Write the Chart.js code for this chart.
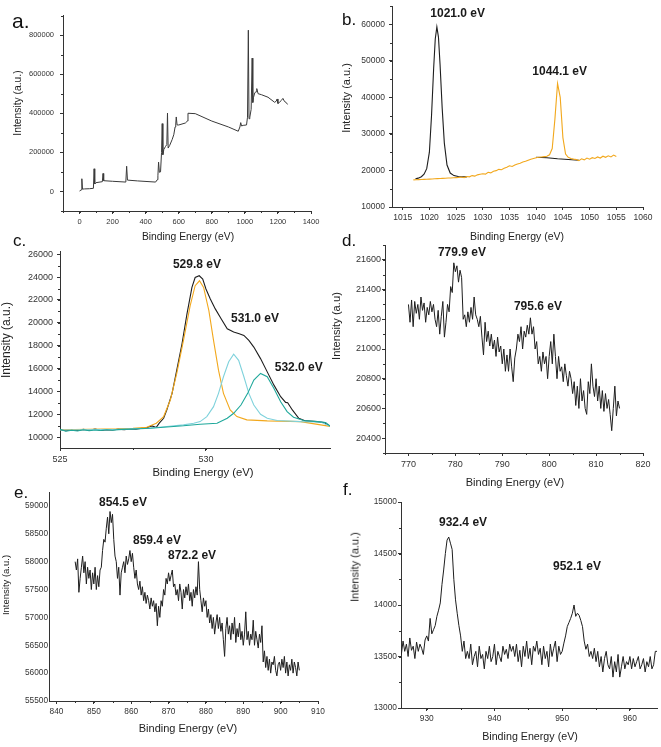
<!DOCTYPE html>
<html>
<head>
<meta charset="utf-8">
<script src="https://cdn.jsdelivr.net/npm/chart.js@4.4.0/dist/chart.umd.min.js"></script>
<style>
  body { margin: 0; width: 661px; height: 747px; background: #fff; position: relative; overflow: hidden;
         font-family: "Liberation Sans", Arial, sans-serif; }
  canvas { position: absolute; }
  .txt { position: absolute; white-space: nowrap; color: #222; line-height: 1; }
  .letter { font-size: 17px; color: #111; }
  .ytitle { transform: translate(-50%, -50%) rotate(-90deg); }
  .xtitle { transform: translate(-50%, -50%); }
</style>
</head>
<body>
<script>
const FONT = '"Liberation Sans", Arial, sans-serif';

// ---- a. survey ----
const aX = [0, 10, 14, 18, 30, 60, 84, 88, 92, 100, 138, 142, 146, 200, 280, 285, 290, 350, 460, 470, 474, 478, 483, 490, 496, 500, 504, 510, 520, 528, 532, 536, 545, 560, 570, 578, 582, 585, 590, 600, 640, 652, 656, 700, 800, 900, 960, 970, 975, 980, 990, 1010, 1016, 1021, 1025, 1030, 1038, 1044, 1048, 1052, 1060, 1068, 1072, 1080, 1100, 1140, 1180, 1190, 1195, 1200, 1208, 1220, 1230, 1240, 1250, 1258];
const aY = [2000, 8000, 65000, 12000, 13000, 14000, 16000, 116000, 38000, 45000, 50000, 92000, 55000, 52000, 48000, 129000, 58000, 54000, 48000, 60000, 80000, 150000, 98000, 100000, 200000, 347000, 188000, 215000, 230000, 240000, 401000, 222000, 235000, 265000, 290000, 330000, 345000, 381000, 340000, 340000, 350000, 360000, 400000, 398000, 360000, 330000, 308000, 330000, 352000, 335000, 338000, 340000, 380000, 825000, 372000, 380000, 420000, 682000, 455000, 480000, 505000, 510000, 526000, 500000, 495000, 482000, 456000, 462000, 473000, 450000, 455000, 465000, 476000, 460000, 455000, 445000];
const aXTicks = [0, 200, 400, 600, 800, 1000, 1200, 1400];
const aYTicks = [0, 200000, 400000, 600000, 800000];

// ---- b. 1021 / 1044 ----
const bBlackX = [1017.4, 1017.9, 1018.5, 1019, 1019.5, 1020, 1020.4, 1020.8, 1021.1, 1021.4, 1021.7, 1022, 1022.4, 1022.8, 1023.3, 1023.9, 1024.6, 1025.4, 1026.3, 1027, 1033, 1040, 1042, 1044, 1046, 1048];
const bBlackY = [17700, 17900, 18300, 19000, 20500, 25000, 35000, 48000, 56000, 59300, 56500, 49000, 37000, 27500, 21500, 19300, 18600, 18350, 18250, 18250, null, 23600, 23500, 23200, 23000, 22800];
const bOrangeStart = 1017, bOrangePerEv = 2;
const bOrangeY = [
  17430, 17460, 17500, 17530, 17560, 17600, 17640, 17680, 17720, 17760,
  17800, 17840, 17880, 17920, 17960, 18000, 18050, 18100, 18200, 18050,
  18350, 18250, 18600, 18450, 18800, 18950, 19100, 19000, 19500, 19350,
  19800, 19950, 20300, 20200, 20600, 20900, 21300, 21100, 21500, 21800,
  22000, 22300, 22500, 22800, 23100, 23300, 23500, 23600, 23700, 23800,
  23900, 24300, 26000, 34000, 43800, 40000, 29000, 24500, 23600, 23300,
  23100, 23000, 22700, 23200, 22900, 23400, 23100, 23500, 23300, 23700,
  23400, 23900, 23600, 24000, 23700, 24200, 23800];
const bXTicks = [1015, 1020, 1025, 1030, 1035, 1040, 1045, 1050, 1055, 1060];
const bYTicks = [10000, 20000, 30000, 40000, 50000, 60000];

// ---- c. O 1s fit ----
const cBlackX = [525, 525.2, 525.4, 525.6, 525.8, 526, 526.2, 526.4, 526.6, 526.8, 527, 527.2, 527.4, 527.6, 527.8, 528, 528.15, 528.3, 528.4, 528.55, 528.66, 528.84, 529, 529.18, 529.35, 529.52, 529.63, 529.77, 529.89, 530, 530.15, 530.32, 530.52, 530.73, 530.95, 531.14, 531.3, 531.47, 531.64, 531.87, 532.1, 532.33, 532.56, 532.73, 532.8, 532.96, 533.18, 533.41, 533.81, 534.04, 534.27];
const cBlackY = [10650, 10560, 10620, 10580, 10680, 10600, 10700, 10590, 10650, 10620, 10700, 10660, 10720, 10690, 10780, 10840, 10980, 10850, 11220, 11650, 12380, 13830, 15860, 18170, 20780, 23100, 23970, 24120, 23830, 22960, 22090, 21220, 20350, 19480, 19190, 19040, 18900, 18460, 17880, 16870, 15710, 14550, 13540, 13040, 13010, 12380, 11650, 11420, 11360, 11280, 10930];
const cOrangeX = [525, 526, 527, 527.5, 527.97, 528.3, 528.55, 528.78, 529, 529.23, 529.46, 529.63, 529.78, 529.92, 530.1, 530.26, 530.43, 530.6, 530.83, 531.06, 531.4, 532.1, 533.24, 534.27];
const cOrangeY = [10650, 10680, 10720, 10780, 10870, 11220, 11800, 13250, 15570, 18460, 21510, 23250, 23680, 23100, 21070, 18460, 15860, 13830, 12380, 11800, 11510, 11420, 11360, 10930];
const cCyanX = [525, 527, 528, 528.66, 529.23, 529.58, 529.8, 530.03, 530.26, 530.43, 530.6, 530.78, 530.95, 531.12, 531.3, 531.47, 531.64, 531.87, 532.1, 532.44, 533.24, 533.93, 534.27];
const cCyanY = [10620, 10680, 10780, 10930, 11070, 11220, 11360, 11800, 12670, 13830, 15280, 16590, 17250, 16720, 15280, 13830, 12810, 12000, 11650, 11450, 11360, 11330, 10930];
const cTealX = [525, 525.2, 525.4, 525.6, 525.8, 526, 526.2, 526.4, 526.6, 526.8, 527, 528.1, 529.23, 529.8, 530.38, 530.73, 530.95, 531.2, 531.43, 531.64, 531.87, 532.1, 532.33, 532.56, 532.78, 533, 533.35, 533.81, 534.1, 534.27];
const cTealY = [10680, 10520, 10600, 10540, 10650, 10560, 10620, 10580, 10640, 10600, 10660, 10780, 10990, 11130, 11220, 11650, 12090, 12810, 13830, 14990, 15570, 15280, 14260, 13100, 12230, 11740, 11450, 11360, 11280, 10930];
const cXTicks = [525, 530];
const cYTicks = [10000, 12000, 14000, 16000, 18000, 20000, 22000, 24000, 26000];

// ---- d. 770-815 ----
const dStart = 770, dPerEv = 3;
const dY = [
  21300, 21180, 21330,  21150, 21320, 21240,  21300, 21200, 21350,  21260, 21310, 21180,
  21280, 21230, 21320,  21250, 21300, 21200,  21150, 21260, 21100,  21220, 21320, 21080,
  21180, 21300, 21250,  21420, 21380, 21580,  21520, 21560, 21450,  21530, 21480, 21200,
  21230, 21150, 21250,  21180, 21280, 21200,  21350, 21230, 21200,  21150, 21220, 21080,
  20960, 21180, 21050,  21120, 21020, 21100,  21000, 21060, 20950,  21080, 20980, 21020,
  20900, 21000, 20850,  20960, 20850, 21000,  20880, 20780, 20940,  21000, 21100, 21050,
  21150, 21000, 21120,  21080, 21160, 21100,  21210, 21100, 21150,  21000, 21050, 20900,
  20950, 20850, 20980,  20900, 20950, 20800,  20950, 21050, 20900,  21100, 20950, 20800,
  20950, 20850, 20880,  20780, 20900, 20820,  20750, 20850, 20800,  20700, 20780, 20620,
  20750, 20600, 20800,  20650, 20720, 20600,  20560, 20780, 20700,  20900, 20750, 20680,
  20800, 20650, 20750,  20600, 20720, 20580,  20700, 20600, 20660,  20560, 20450, 20600,
  20750, 20550, 20650,  20600];
const dXTicks = [770, 780, 790, 800, 810, 820];
const dYTicks = [20400, 20600, 20800, 21000, 21200, 21400, 21600];

// ---- e. 845-905 ----
const eStart = 845, ePerEv = 3;
const eY = [
  58000, 57850, 58050,  57450, 57700, 57900,  58100, 57800, 58000,  57600, 57900, 57700,
  57850, 57500, 57800,  57600, 57900, 57500,  57750, 57550, 57850,  57900, 58200, 58400,
  58350, 58600, 58800,  58500, 58900, 58700,  58850, 58400, 58100,  58000, 57700, 57900,
  57400, 57800, 57900,  58000, 57800, 58100,  57950, 58050, 58200,  58000, 58150, 57900,
  57700, 57850, 57600,  57500, 57650, 57400,  57550, 57300, 57450,  57250, 57400, 57300,
  57150, 57350, 57200,  57300, 57100, 57250,  56850, 57200, 57000,  57300, 57200, 57500,
  57400, 57700, 57600,  57800, 57650, 57750,  57850, 57550, 57600,  57400, 57500, 57300,
  57600, 57450, 57150,  57500, 57350, 57550,  57400, 57600, 57300,  57450, 57200, 57500,
  57350, 57550, 57400,  58000, 57500, 57300,  57100, 57350, 57200,  57300, 57000, 57150,
  56900, 57050, 56800,  57000, 56700, 56900,  57050, 56800, 57000,  56750, 56900, 56600,
  56300, 56800, 57000,  56700, 56850, 56600,  56900, 56700, 57000,  56550, 56800, 56650,
  56900, 56600, 56750,  56500, 56700, 57100,  56600, 56750, 56500,  56700, 56600, 56950,
  56500, 56750, 56600,  56450, 56700, 56550,  56850, 56200, 56400,  56100, 56300, 56050,
  56250, 56000, 56200,  56150, 56300, 56050,  55950, 56150, 56200,  56050, 56250, 56100,
  56300, 56000, 56200,  55950, 56150, 56050,  56250, 56000, 56200,  56100, 55950, 56200,
  56050];
const eXTicks = [840, 850, 860, 870, 880, 890, 900, 910];
const eYTicks = [55500, 56000, 56500, 57000, 57500, 58000, 58500, 59000];

// ---- f. 926-964 ----
const fStart = 926, fPerEv = 4;
const fY = [
  13600, 13520, 13650, 13550,  13620, 13500, 13680, 13560,  13600, 13480, 13640, 13550,
  13620, 13580, 13520, 13660,  13700, 13650, 13870, 13720,  13760, 13800, 13890, 13950,
  14020, 14200, 14340, 14500,  14630, 14660, 14600, 14540,  14250, 14050, 13920, 13800,
  13700, 13550, 13650, 13480,  13550, 13480, 13620, 13420,  13500, 13550, 13400, 13600,
  13480, 13520, 13380, 13550,  13480, 13600, 13450, 13500,  13620, 13420, 13550, 13500,
  13450, 13600, 13520, 13570,  13480, 13620, 13550, 13600,  13500, 13620, 13450, 13560,
  13400, 13600, 13500, 13650,  13480, 13580, 13420, 13600,  13550, 13650, 13520, 13580,
  13420, 13600, 13480, 13550,  13400, 13620, 13500, 13580,  13650, 13450, 13600, 13520,
  13550, 13630, 13700, 13790,  13830, 13870, 13920, 14000,  13890, 13920, 13900, 13850,
  13790, 13650, 13570, 13620,  13500, 13550, 13480, 13580,  13450, 13550, 13400, 13500,
  13350, 13480, 13550, 13420,  13380, 13500, 13300, 13450,  13350, 13520, 13300, 13400,
  13500, 13380, 13450, 13420,  13500, 13380, 13480, 13400,  13450, 13500, 13380, 13420,
  13480, 13350, 13450, 13400,  13500, 13380, 13420, 13550,  13550];
const fXTicks = [930, 940, 950, 960];
const fYTicks = [13000, 13500, 14000, 14500, 15000];

// helpers
function pairs(xs, ys) {
  return xs.map((x, i) => ({ x: x, y: ys[i] }));
}
function onGrid(start, perEv, ys) {
  return ys.map((y, i) => ({ x: start + i / perEv, y: y }));
}
function line(data, color, width) {
  return { data: data, borderColor: color, borderWidth: width || 1, pointRadius: 0, tension: 0, fill: false, spanGaps: false };
}

// minor tick marks, drawn with the chart's own scales
const minorTicks = {
  id: 'minorTicks',
  afterDraw(chart, args, opts) {
    const ctx = chart.ctx;
    ctx.save();
    ctx.strokeStyle = '#333';
    ctx.lineWidth = 1;
    ['x', 'y'].forEach(k => {
      const step = opts[k];
      if (!step) return;
      const s = chart.scales[k];
      const n0 = Math.ceil(s.min / step - 1e-9), n1 = Math.floor(s.max / step + 1e-9);
      for (let n = n0; n <= n1; n++) {
        const p = Math.round(s.getPixelForValue(n * step)) + 0.5;
        ctx.beginPath();
        if (k === 'x') { ctx.moveTo(p, s.top); ctx.lineTo(p, s.top + 2); }
        else { ctx.moveTo(s.right, p); ctx.lineTo(s.right - 2, p); }
        ctx.stroke();
      }
    });
    ctx.restore();
  }
};

// peak labels
const peakNotes = {
  id: 'peakNotes',
  afterDatasetsDraw(chart, args, opts) {
    const ctx = chart.ctx;
    ctx.save();
    ctx.font = 'bold 12px ' + FONT;
    ctx.fillStyle = '#1a1a1a';
    ctx.textAlign = 'center';
    ctx.textBaseline = 'middle';
    (opts.items || []).forEach(n => {
      ctx.fillText(n.text, chart.scales.x.getPixelForValue(n.x), chart.scales.y.getPixelForValue(n.y));
    });
    ctx.restore();
  }
};

function axis(min, max, majors, size, font, pad, tick) {
  return {
    type: 'linear', min: min, max: max,
    afterBuildTicks: s => { s.ticks = majors.map(v => ({ value: v })); },
    afterFit: s => { if (s.isHorizontal()) s.height = size; else s.width = size; },
    ticks: { autoSkip: false, maxRotation: 0, color: '#333', padding: pad,
             font: { family: FONT, size: font }, callback: v => String(v) },
    grid: { display: true, drawOnChartArea: false, drawTicks: tick > 0, tickLength: tick, color: '#333', lineWidth: 1 },
    border: { display: true, color: '#333', width: 1 }
  };
}

function addText(cls, text, x, y, size) {
  const d = document.createElement('div');
  d.className = 'txt ' + cls;
  d.textContent = text;
  d.style.left = x + 'px';
  d.style.top = y + 'px';
  d.style.fontSize = size + 'px';
  document.body.appendChild(d);
}

function makePanel(p) {
  const padT = 8, padR = 16, xH = 26;
  const [L, T, R, B] = p.box;
  const w = R - L + p.yW + padR, h = B - T + padT + xH;
  const cv = document.createElement('canvas');
  cv.width = w; cv.height = h;
  cv.style.left = (L - p.yW) + 'px';
  cv.style.top = (T - padT) + 'px';
  cv.style.width = w + 'px';
  cv.style.height = h + 'px';
  document.body.appendChild(cv);

  new Chart(cv, {
    type: 'line',
    data: { datasets: p.datasets },
    options: {
      responsive: false, animation: false, devicePixelRatio: 1,
      layout: { padding: { top: padT, right: padR, left: 0, bottom: 0 } },
      plugins: { legend: { display: false }, tooltip: { enabled: false },
                 minorTicks: p.minor, peakNotes: { items: p.notes } },
      scales: {
        x: axis(p.x[0], p.x[1], p.xTicks, xH, p.font, p.xPad, 3),
        y: axis(p.y[0], p.y[1], p.yTicks, p.yW, p.font, p.yPad, p.yTick)
      }
    },
    plugins: [minorTicks, peakNotes]
  });

  addText('letter', p.letter, p.letterPos[0], p.letterPos[1], p.letterSize || 17);
  addText('xtitle', 'Binding Energy (eV)', p.xTitle[0], p.xTitle[1], p.xTitle[2]);
  addText('ytitle', p.yLabel, p.yTitle[0], p.yTitle[1], p.yTitle[2]);
}

const BLACK = '#1e1e1e', ORANGE = '#f2a81d', CYAN = '#7fd2dc', TEAL = '#1fa89b';

const panels = [
  { letter: 'a.', letterPos: [12, 10], letterSize: 21, box: [63, 13, 311, 211], yW: 62,
    x: [-100, 1400], y: [-100000, 900000], xTicks: aXTicks, yTicks: aYTicks,
    font: 7.5, xPad: 3, yPad: 6, yTick: 3, minor: { x: 100, y: 100000 },
    xTitle: [188, 237, 10.3], yTitle: [18, 103, 10.3], yLabel: 'Intensity (a.u.)',
    datasets: [line(pairs(aX, aY), '#3a3a3a', 1)], notes: [] },
  { letter: 'b.', letterPos: [342, 11], box: [392, 5, 643, 207], yW: 45,
    x: [1013, 1060], y: [10000, 65000], xTicks: bXTicks, yTicks: bYTicks,
    font: 8.5, xPad: 3, yPad: 4, yTick: 3, minor: { y: 5000 },
    xTitle: [517, 236, 10.5], yTitle: [346, 98, 11], yLabel: 'Intensity (a.u.)',
    datasets: [line(onGrid(bOrangeStart, bOrangePerEv, bOrangeY), ORANGE, 1.1),
               line(pairs(bBlackX, bBlackY), BLACK, 1.1)],
    notes: [{ text: '1021.0 eV', x: 1025.3, y: 63000 }, { text: '1044.1 eV', x: 1044.4, y: 46950 }] },
  { letter: 'c.', letterPos: [13, 232], box: [60, 250, 330, 448], yW: 59,
    x: [525, 534.25], y: [9050, 26250], xTicks: cXTicks, yTicks: cYTicks,
    font: 9, xPad: 3, yPad: 4, yTick: 3, minor: { x: 2.5, y: 1000 },
    xTitle: [203, 473, 11.3], yTitle: [6, 340, 12], yLabel: 'Intensity (a.u.)',
    datasets: [line(pairs(cTealX, cTealY), TEAL, 1.1), line(pairs(cCyanX, cCyanY), CYAN, 1.1),
               line(pairs(cOrangeX, cOrangeY), ORANGE, 1.1), line(pairs(cBlackX, cBlackY), BLACK, 1.1)],
    notes: [{ text: '529.8 eV', x: 529.69, y: 25130 }, { text: '531.0 eV', x: 531.68, y: 20350 },
            { text: '532.0 eV', x: 533.18, y: 16090 }] },
  { letter: 'd.', letterPos: [342, 232], box: [385, 245, 643, 453], yW: 45,
    x: [765, 820], y: [20300, 21700], xTicks: dXTicks, yTicks: dYTicks,
    font: 9, xPad: 3, yPad: 1, yTick: 3, minor: { x: 5, y: 100 },
    xTitle: [515, 482, 11], yTitle: [337, 326, 11.2], yLabel: 'Intensity (a.u)',
    datasets: [line(onGrid(dStart, dPerEv, dY), BLACK, 1)],
    notes: [{ text: '779.9 eV', x: 781.4, y: 21646 }, { text: '795.6 eV', x: 797.6, y: 21283 }] },
  { letter: 'e.', letterPos: [14, 484], box: [49, 492, 318, 701], yW: 48,
    x: [838, 910], y: [55500, 59250], xTicks: eXTicks, yTicks: eYTicks,
    font: 8.3, xPad: 3, yPad: 1, yTick: 0, minor: { x: 5 },
    xTitle: [188, 728, 11], yTitle: [6, 585, 9.5], yLabel: 'Intensity (a.u.)',
    datasets: [line(onGrid(eStart, ePerEv, eY), BLACK, 1)],
    notes: [{ text: '854.5 eV', x: 857.8, y: 59053 }, { text: '859.4 eV', x: 866.9, y: 58371 },
            { text: '872.2 eV', x: 876.3, y: 58102 }] },
  { letter: 'f.', letterPos: [343, 481], box: [401, 502, 657, 708], yW: 45,
    x: [926.2, 964], y: [13000, 15000], xTicks: fXTicks, yTicks: fYTicks,
    font: 8.4, xPad: 3, yPad: 1, yTick: 3, minor: { x: 5, y: 250 },
    xTitle: [530, 736, 10.7], yTitle: [355, 567, 11], yLabel: 'Intensity (a.u.)',
    datasets: [line(onGrid(fStart, fPerEv, fY), BLACK, 1)],
    notes: [{ text: '932.4 eV', x: 935.36, y: 14796 }, { text: '952.1 eV', x: 952.19, y: 14369 }] }
];

panels.forEach(makePanel);
</script>
</body>
</html>
